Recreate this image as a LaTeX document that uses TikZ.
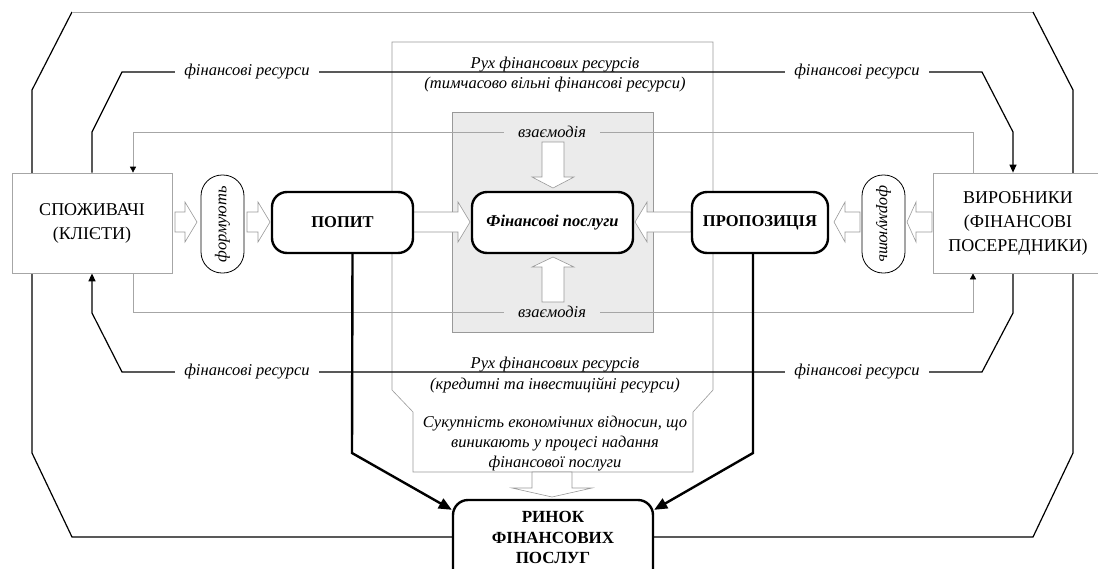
\documentclass[tikz,border=0pt]{standalone}
\usepackage{fontspec}
\setmainfont{Liberation Serif}
\usetikzlibrary{arrows.meta}
\newcommand\myarrowH[6]{%
  \draw[hollow] (#1,#3-#4) -- (#2-#6,#3-#4) -- (#2-#6,#3-#5) -- (#2,#3) -- (#2-#6,#3+#5) -- (#2-#6,#3+#4) -- (#1,#3+#4) -- cycle;}
\newcommand\myarrowV[6]{%
  \draw[hollow] (#3-#4,#1) -- (#3-#4,#2-#6) -- (#3-#5,#2-#6) -- (#3,#2) -- (#3+#5,#2-#6) -- (#3+#4,#2-#6) -- (#3+#4,#1) -- cycle;}
\begin{document}
\begin{tikzpicture}[x=1pt,y=-1pt,
  blk/.style={line width=1.2pt, draw=black},
  gline/.style={line width=0.7pt, draw=black!35},
  gtip/.style={-{Triangle[length=6pt,width=6pt,color=black]}},
  btip/.style={-{Triangle[length=8pt,width=7pt]}},
  fatline/.style={line width=2.4pt, -{Triangle[length=13pt,width=11pt]}},
  mainbox/.style={draw, line width=2.4pt, fill=white, rounded corners=15pt, font=\bfseries\fontsize{16.5}{20.5}\selectfont, align=center, inner sep=0pt},
  agent/.style={draw=black!35, line width=0.7pt, fill=white, inner sep=0pt, font=\fontsize{18}{24}\selectfont, align=center},
  pill/.style={draw, line width=0.8pt, fill=white, rounded corners=21pt, minimum width=98pt, minimum height=43pt, inner sep=0pt, font=\itshape\fontsize{16.5}{20}\selectfont},
  lbl/.style={font=\itshape\fontsize{16.5}{20}\selectfont, fill=white, inner xsep=9pt, inner ysep=1pt},
  txt/.style={font=\itshape\fontsize{16.5}{20}\selectfont, inner sep=0pt},
  hollow/.style={draw=black!40, fill=white, line width=0.6pt, line join=miter}
]
\useasboundingbox (0,0) rectangle (1098,568);

% big gray outline
\draw[black!40, line width=0.6pt] (392,42) -- (713,42) -- (713,390) -- (693,412) -- (693,472) -- (413,472) -- (413,412) -- (392,390) -- cycle;
% gray interaction box
\draw[black!40, fill=black!8, line width=0.6pt] (452,112) rectangle (653,332);

\node[agent, minimum width=160pt, minimum height=100pt] (spoz) at (92,223) {СПОЖИВАЧІ\\(КЛІЄТИ)};
\node[agent, minimum width=170pt, minimum height=100pt] (vyr) at (1018,223) {ВИРОБНИКИ\\(ФІНАНСОВІ\\ПОСЕРЕДНИКИ)};
\node[mainbox, minimum width=200pt, minimum height=96pt, font=\bfseries\fontsize{17}{20.5}\selectfont] (rin) at (553,548) {РИНОК\\ФІНАНСОВИХ\\ПОСЛУГ\\\mbox{}};
\coordinate (fl) at (72,537);
\coordinate (fr) at (1033,537);

% outer frame
\draw[blk] (fl -| rin.west) -- (fl) -- (32,453) -- (32,90) -- (72,12);
\draw[line width=1pt, black!35] (72,12) -- (1033,12);
\draw[blk] (1033,12) -- (1073,90) -- (1073,453) -- (fr) -- (fr -| rin.east);

% gray interaction connectors
\draw[gline,gtip] ([xshift=-45pt]vyr.north) -- (973,132) -- (133,132) -- ([xshift=41pt]spoz.north);
\draw[gline,gtip] ([xshift=41pt]spoz.south) -- (133,312) -- (973,312) -- ([xshift=-45pt]vyr.south);

% black resource connectors
\draw[blk,btip] (spoz.north) -- (92,132) -- (122,72) -- (982,72) -- (1013,132) -- ([xshift=-5pt]vyr.north);
\draw[blk,btip] ([xshift=-5pt]vyr.south) -- (1013,313) -- (982,372) -- (122,372) -- (92,313) -- (spoz.south);

% redraw agent boxes on top of frame lines
\node[agent, minimum width=160pt, minimum height=100pt] at (92,223) {СПОЖИВАЧІ\\(КЛІЄТИ)};
\node[agent, minimum width=170pt, minimum height=100pt] at (1018,223) {ВИРОБНИКИ\\(ФІНАНСОВІ\\ПОСЕРЕДНИКИ)};

% hollow arrows
\myarrowH{175}{197}{222}{10}{20}{12}
\myarrowH{247}{270}{222}{10}{20}{12}
\myarrowH{413}{470}{222}{10}{20}{12}
\myarrowH{691}{635}{222}{10}{20}{-12}
\myarrowH{932}{907}{222}{10}{20}{-9}
\myarrowH{860}{834}{222}{10}{20}{-11}
\myarrowV{142}{188}{553}{11}{21}{11}
\myarrowV{302}{257}{553}{11}{21}{-10}
\myarrowV{472}{497}{552}{20}{40}{9}

% main boxes
\node[pill, rotate=90] (f1) at (222.5,224) {формують};
\node[pill, rotate=-90] (f2) at (883.5,224) {формують};
\node[mainbox, minimum width=141pt, minimum height=61pt] (popyt) at (342.5,222.5) {ПОПИТ};
\node[mainbox, minimum width=161pt, minimum height=61pt, font=\bfseries\itshape\fontsize{16.5}{20}\selectfont] (fp) at (552.5,222.5) {Фінансові послуги};
\node[mainbox, minimum width=136pt, minimum height=61pt] (prop) at (760,222.5) {ПРОПОЗИЦІЯ};

% thick connectors to market
\draw[fatline] ([xshift=10pt]popyt.south) -- (352,453) -- ([shift={(0,11)}]rin.north west);
\draw[fatline] ([xshift=-7pt]prop.south) -- (753,453) -- ([shift={(0,11)}]rin.north east);

% labels
\node[lbl] (l1) at (247,72) {фінансові ресурси};
\node[lbl] (l2) at (857,72) {фінансові ресурси};
\node[lbl] (l3) at (247,372) {фінансові ресурси};
\node[lbl] (l4) at (857,372) {фінансові ресурси};
\node[lbl, fill=black!8, inner xsep=14pt] (v1) at (552,132) {взаємодія};
\node[lbl, fill=black!8, inner xsep=14pt] (v2) at (552,312) {взаємодія};

\node[txt, anchor=base] (r1a) at (555,68) {Рух фінансових ресурсів};
\node[txt, anchor=base] (r1b) at (555,88) {(тимчасово вільні фінансові ресурси)};
\node[txt, anchor=base] (r2a) at (555,368) {Рух фінансових ресурсів};
\node[txt, anchor=base] (r2b) at (555,389) {(кредитні та інвестиційні ресурси)};
\node[txt, anchor=base] (s1) at (555,427) {Сукупність економічних відносин, що};
\node[txt, anchor=base] (s2) at (555,447) {виникають у процесі надання};
\node[txt, anchor=base] (s3) at (555,467) {фінансової послуги};
\end{tikzpicture}
\end{document}
